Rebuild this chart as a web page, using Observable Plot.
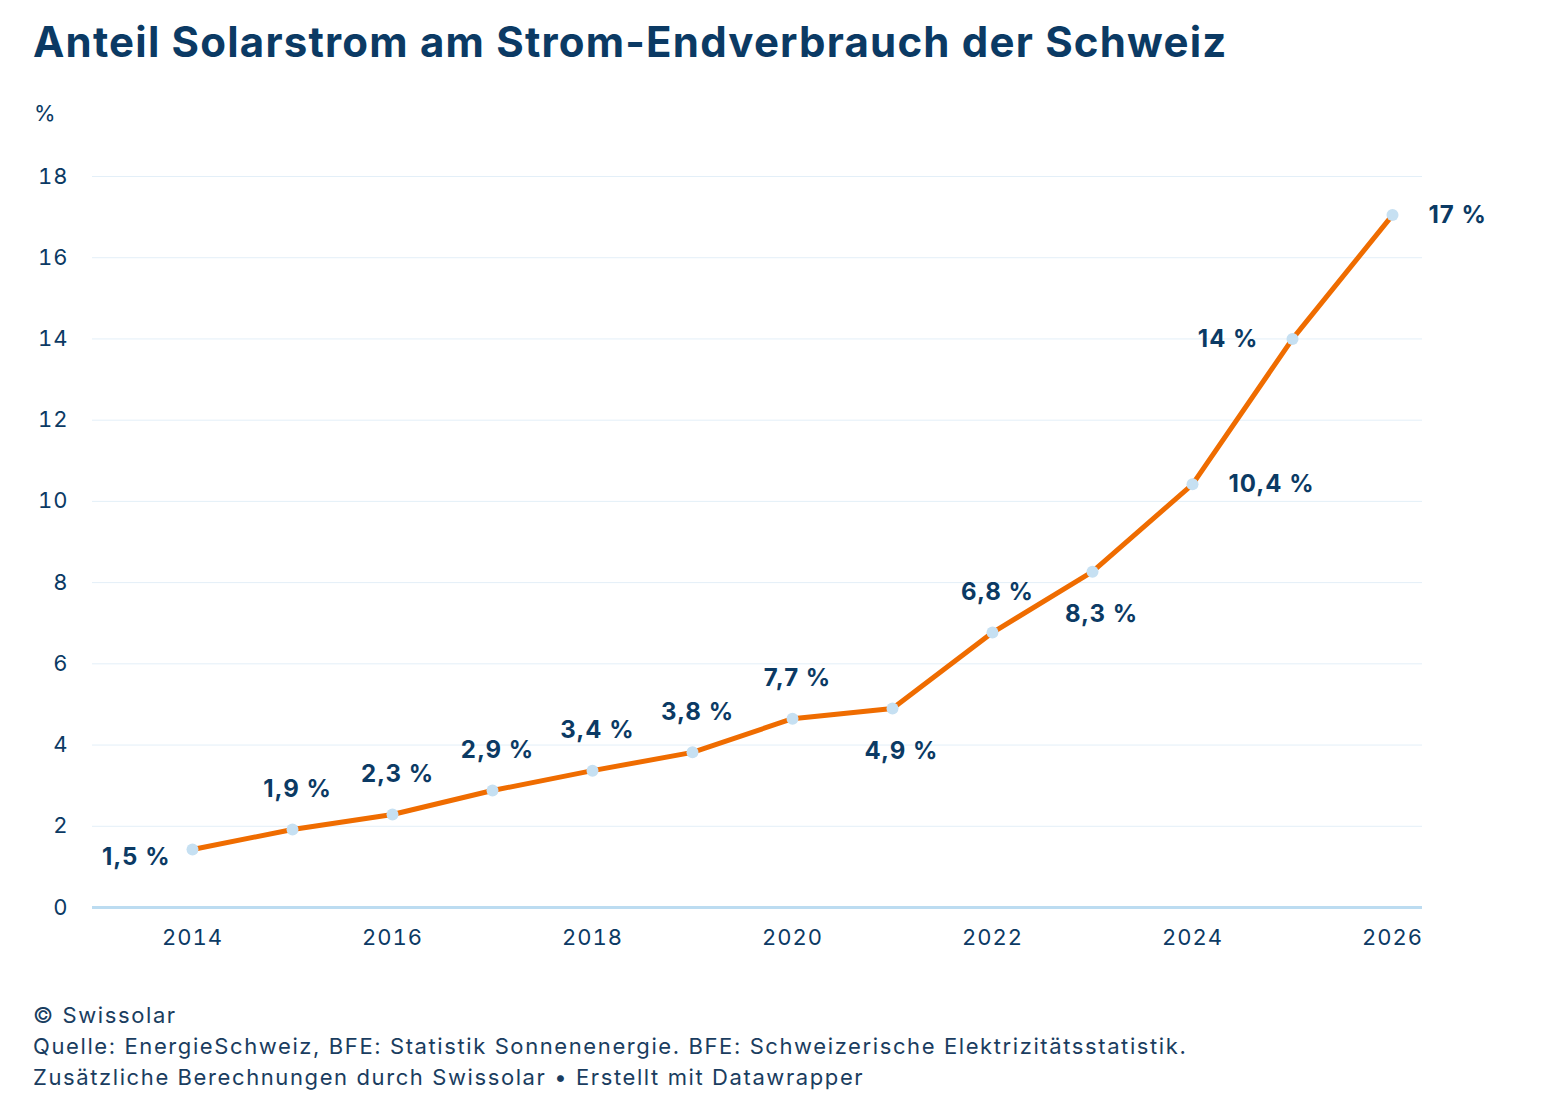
<!DOCTYPE html>
<html>
<head>
<meta charset="utf-8">
<script src="https://cdn.jsdelivr.net/npm/d3@7"></script>
<script src="https://cdn.jsdelivr.net/npm/@observablehq/plot@0.6"></script>
<style>
  html, body { margin: 0; padding: 0; background: #fff; }
  #wrap { position: relative; width: 1564px; height: 1116px; font-family: Inter, "Noto Sans", sans-serif; color: #0b3a64; }
  #title { position: absolute; left: 33px; top: 18px; font-size: 42px; font-weight: 700; line-height: 48px; letter-spacing: 1.2px; white-space: nowrap; }
  #unit { position: absolute; left: 34px; top: 100px; font-size: 22px; line-height: 26px; }
  #chart { position: absolute; left: 0; top: 90px; }
  #caption { position: absolute; left: 33px; top: 1000px; font-size: 22px; line-height: 31px; letter-spacing: 1.6px; color: #1a3d60; white-space: nowrap; }
</style>
</head>
<body>
<div id="wrap">
  <div id="title">Anteil Solarstrom am Strom-Endverbrauch der Schweiz</div>
  <div id="unit">%</div>
  <div id="chart"></div>
  <div id="caption">
    <div>© Swissolar</div>
    <div>Quelle: EnergieSchweiz, BFE: Statistik Sonnenenergie. BFE: Schweizerische Elektrizitätsstatistik.</div>
    <div>Zusätzliche Berechnungen durch Swissolar • Erstellt mit Datawrapper</div>
  </div>
</div>
<script>
const years = [2014, 2015, 2016, 2017, 2018, 2019, 2020, 2021, 2022, 2023, 2024, 2025, 2026];
const shares = [1.43, 1.92, 2.29, 2.88, 3.37, 3.82, 4.65, 4.9, 6.77, 8.27, 10.42, 14.0, 17.05];
const valueLabels = ["1,5 %", "1,9 %", "2,3 %", "2,9 %", "3,4 %", "3,8 %", "7,7 %", "4,9 %", "6,8 %", "8,3 %", "10,4 %", "14 %", "17 %"];
const labelSide = ["lowerleft", "above", "above", "above", "above", "above", "above", "below", "above", "below", "right", "left", "right"];
const yTicks = [0, 2, 4, 6, 8, 10, 12, 14, 16, 18];
const xTicks = [2014, 2016, 2018, 2020, 2022, 2024, 2026];

const data = years.map((y, i) => ({year: y, share: shares[i], label: valueLabels[i], side: labelSide[i]}));

const navy = "#0b3a64";
const placement = {
  lowerleft: {dx: -22, dy: 8,   textAnchor: "end"},
  left:      {dx: -34, dy: 0,   textAnchor: "end"},
  above:     {dx: 5,   dy: -40, textAnchor: "middle"},
  below:     {dx: 9,   dy: 43,  textAnchor: "middle"},
  right:     {dx: 36,  dy: 0,   textAnchor: "start"}
};

const labelMarks = Object.entries(placement).map(([side, p]) =>
  Plot.text(data.filter(d => d.side === side), {
    x: "year", y: "share", text: "label",
    dx: p.dx, dy: p.dy, textAnchor: p.textAnchor,
    fill: navy, fontWeight: 700, fontSize: 24
  })
);

const chart = Plot.plot({
  width: 1564,
  height: 880,
  marginTop: 86,
  marginBottom: 63,
  marginLeft: 92,
  marginRight: 142,
  style: {fontFamily: "Inter, 'Noto Sans', sans-serif", fontSize: "22px", color: navy, background: "transparent"},
  x: {domain: [2013, 2026.3], ticks: xTicks, tickFormat: d => String(d), tickSize: 0, tickPadding: 22, label: null},
  y: {domain: [0, 18], ticks: yTicks, tickSize: 0, tickPadding: 24, label: null},
  marks: [
    Plot.ruleY(yTicks.filter(t => t > 0), {stroke: "#e3eff8", strokeWidth: 1}),
    Plot.ruleY([0], {stroke: "#bcdcf1", strokeWidth: 3}),
    Plot.axisX({ticks: xTicks, tickFormat: d => String(d), tickSize: 0, tickPadding: 22, fill: navy, fontSize: 22}),
    Plot.axisY({ticks: yTicks, tickSize: 0, tickPadding: 24, fill: navy, fontSize: 22}),
    Plot.line(data, {x: "year", y: "share", stroke: "#ef6c00", strokeWidth: 5}),
    Plot.dot(data, {x: "year", y: "share", r: 6, fill: "#c6e0f2", stroke: "none"}),
    ...labelMarks
  ]
});
chart.querySelectorAll("text").forEach(t => t.style.letterSpacing = "1px");
document.getElementById("chart").appendChild(chart);
</script>
</body>
</html>
